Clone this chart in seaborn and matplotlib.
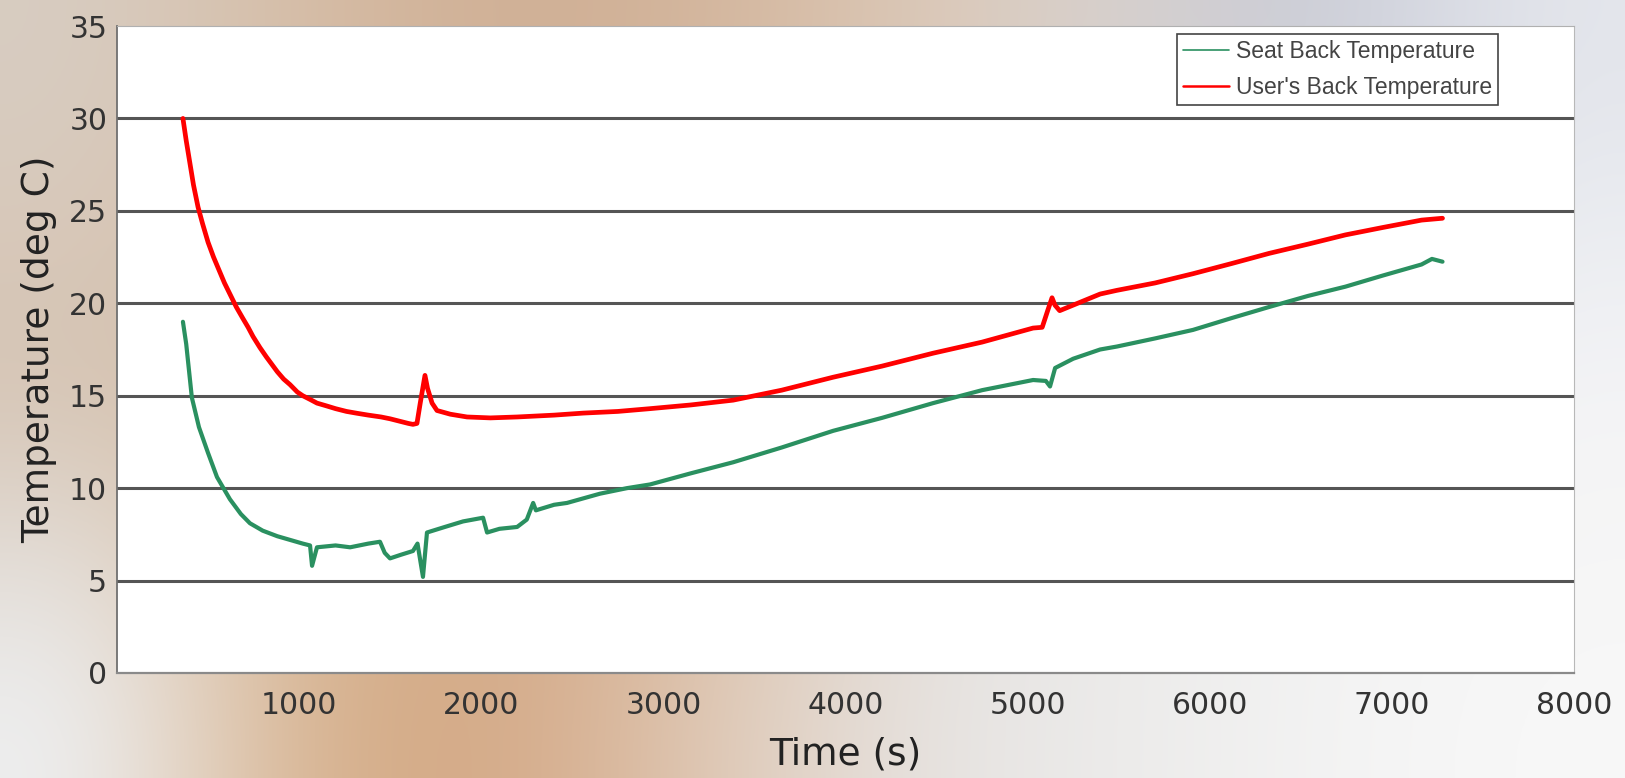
import numpy as np
import pandas as pd
import seaborn as sns
import matplotlib.pyplot as plt
from matplotlib.colors import to_rgb

# values
user_time = [362, 380, 400, 420, 445, 470, 500, 530, 560, 590, 620, 655, 690, 720, 747, 785,
             820, 850, 880, 915, 950, 990, 1020, 1060, 1098, 1150, 1200, 1260, 1318, 1380,
             1450, 1500, 1560, 1600, 1625, 1647, 1665, 1691, 1705, 1730, 1757, 1830, 1922,
             2050, 2197, 2400, 2560, 2750, 2927, 3150, 3383, 3650, 3932, 4200, 4481,
             4750, 5030, 5080, 5110, 5134, 5150, 5176, 5250, 5398, 5490, 5700, 5908,
             6120, 6326, 6540, 6745, 6950, 7163, 7278]
user_temp = [30.0, 28.8, 27.6, 26.4, 25.2, 24.3, 23.3, 22.5, 21.8, 21.1, 20.5, 19.8, 19.2, 18.7, 18.2, 17.6,
             17.1, 16.7, 16.3, 15.9, 15.6, 15.2, 15.0, 14.8, 14.6, 14.45, 14.3, 14.15, 14.05, 13.95,
             13.85, 13.75, 13.6, 13.5, 13.45, 13.5, 14.6, 16.1, 15.4, 14.6, 14.2, 14.0, 13.85,
             13.8, 13.85, 13.95, 14.06, 14.15, 14.3, 14.5, 14.76, 15.3, 16.0, 16.6, 17.3,
             17.9, 18.66, 18.7, 19.6, 20.3, 19.9, 19.6, 19.9, 20.5, 20.7, 21.1, 21.6,
             22.15, 22.7, 23.2, 23.7, 24.1, 24.5, 24.6]

seat_time = [362, 380, 411, 450, 500, 549, 620, 680, 730, 800, 880, 950, 1020, 1060, 1071,
             1098, 1200, 1280, 1380, 1444, 1470, 1499, 1560, 1625, 1650, 1680, 1702, 1800,
             1900, 2010, 2032, 2100, 2197, 2250, 2285, 2300, 2400, 2471, 2652, 2800, 2927,
             3150, 3383, 3650, 3932, 4200, 4481, 4750, 5030, 5100, 5123, 5151, 5250, 5398,
             5490, 5700, 5908, 6120, 6326, 6540, 6745, 6950, 7163, 7220, 7278]
seat_temp = [19.0, 17.8, 14.9, 13.3, 11.9, 10.6, 9.4, 8.6, 8.1, 7.7, 7.4, 7.2, 7.0, 6.9, 5.8,
             6.8, 6.9, 6.8, 7.0, 7.1, 6.5, 6.2, 6.4, 6.6, 7.0, 5.2, 7.6, 7.9,
             8.2, 8.4, 7.6, 7.8, 7.9, 8.3, 9.2, 8.8, 9.1, 9.2, 9.7, 10.0, 10.2,
             10.8, 11.4, 12.2, 13.1, 13.8, 14.6, 15.3, 15.85, 15.8, 15.5, 16.5, 17.0, 17.5,
             17.66, 18.1, 18.56, 19.2, 19.8, 20.4, 20.9, 21.5, 22.1, 22.4, 22.25]

x_ticks = [1000, 2000, 3000, 4000, 5000, 6000, 7000, 8000]
y_ticks = [0, 5, 10, 15, 20, 25, 30, 35]

seat = pd.DataFrame({"Time": seat_time, "Temp": seat_temp, "Series": "Seat Back Temperature"})
user = pd.DataFrame({"Time": user_time, "Temp": user_temp, "Series": "User's Back Temperature"})
df = pd.concat([seat, user], ignore_index=True)

sns.set_style("white")
plt.rcParams["font.family"] = ["DejaVu Sans"]

fig = plt.figure(figsize=(16.25, 7.78), dpi=100)

# blurred photo behind the chart
bg_hex = [
    ["#d8cdc2", "#d6bda6", "#cfae93", "#d3b59c", "#dcc8b6", "#d8d2cf", "#c7cad6", "#e4e6ec"],
    ["#d8c9bb", "#d5bba3", "#d0b096", "#d6bca4", "#ddd0c4", "#dcd8d6", "#d6d8e0", "#eceef2"],
    ["#d5c4b4", "#d6bca2", "#d2b094", "#d8c0aa", "#e0d6ce", "#e4e2e0", "#ececee", "#f4f4f6"],
    ["#e2dcd6", "#d9b895", "#d2a886", "#dcc0a8", "#e4e0dd", "#ebebea", "#f2f2f2", "#f6f6f6"],
    ["#eef0f2", "#d6b18c", "#d4a784", "#dfc9b6", "#e6e3e1", "#ecebea", "#f3f3f3", "#f8f8f8"],
]
bg = np.array([[to_rgb(c) for c in row] for row in bg_hex])
ax_bg = fig.add_axes([0, 0, 1, 1], zorder=-1)
ax_bg.imshow(bg, aspect="auto", interpolation="bicubic", extent=[0, 1, 0, 1])
ax_bg.axis("off")

ax = fig.add_axes([117 / 1625, 1 - 673 / 778, (1574 - 117) / 1625, (673 - 26) / 778])
ax.set_facecolor("white")

sns.lineplot(data=df, x="Time", y="Temp", hue="Series", sort=False,
             palette={"Seat Back Temperature": "#2a9060", "User's Back Temperature": "#ff0000"},
             ax=ax, legend=False, estimator=None)
for line, lw in zip(ax.lines, [3.0, 3.4]):
    line.set_linewidth(lw)
    line.set_solid_joinstyle("round")

ax.set_xlim(0, 8000)
ax.set_ylim(0, 35)
ax.set_xticks(x_ticks)
ax.set_yticks(y_ticks)
ax.tick_params(axis="both", labelsize=21.5, colors="#333333", length=5, width=1, pad=4)
ax.tick_params(axis="x", color="#aaaaaa", pad=8)
ax.tick_params(axis="y", color="#777777", pad=2)

for yv in y_ticks[1:-1]:
    ax.axhline(yv, color="#555555", lw=2.2, zorder=1)

ax.spines["top"].set_color("#b0b0b0")
ax.spines["right"].set_color("#b8b8b8")
ax.spines["left"].set_color("#707070")
ax.spines["bottom"].set_color("#8a8a8a")
ax.spines["bottom"].set_linewidth(1.6)
ax.spines["left"].set_linewidth(1.3)

ax.set_xlabel("Time (s)", fontsize=27, color="#222222")
ax.set_ylabel("Temperature (deg C)", fontsize=27, color="#222222")
ax.xaxis.set_label_coords(0.5, -0.098)
ax.yaxis.set_label_coords(-0.041, 0.5)

handles = [plt.Line2D([], [], color="#2a9060", lw=1.2),
           plt.Line2D([], [], color="#ff0000", lw=1.8)]
leg = ax.legend(handles, ["Seat Back Temperature", "User's Back Temperature"],
                loc="upper right", bbox_to_anchor=(0.948, 0.988), fancybox=False,
                frameon=True, edgecolor="#444444", framealpha=1,
                prop={"family": "Liberation Sans", "size": 16.5}, labelcolor="#444444",
                handlelength=2.0, handletextpad=0.3, labelspacing=0.55, borderpad=0.28,
                borderaxespad=0)
leg.get_frame().set_linewidth(1.2)

fig.savefig("out.png", dpi=100)
